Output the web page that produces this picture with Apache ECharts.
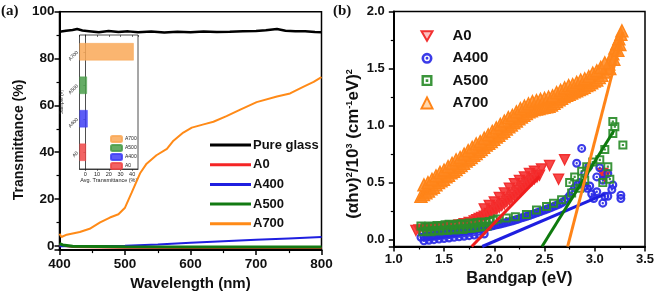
<!DOCTYPE html>
<html>
<head>
<meta charset="utf-8">
<script src="https://cdn.jsdelivr.net/npm/echarts@6/dist/echarts.min.js"></script>
<style>
  html, body { margin: 0; padding: 0; background: #fff; }
  #chart { width: 660px; height: 296px; }
</style>
</head>
<body>
<div id="chart"></div>
<script>
// (a) transmittance spectra, [wavelength (nm), T (%)]
var glassSpectrum = [[400, 91.4], [410, 91.9], [420, 92.2], [427, 92.6], [435, 92.0], [445, 91.7], [460, 91.2], [475, 91.8],
  [490, 91.3], [505, 91.6], [520, 91.2], [540, 91.5], [560, 91.1], [580, 91.4], [600, 91.2], [620, 91.5], [640, 91.3],
  [660, 91.4], [680, 91.6], [700, 91.8], [715, 92.1], [732, 92.6], [745, 91.9], [760, 91.6], [775, 91.7], [790, 91.3], [800, 91.2]];
var a0Spectrum = [[400, 0.3], [420, -0.5], [500, -0.8], [600, -0.9], [700, -0.9], [800, -0.9]];
var a400Spectrum = [[400, -0.2], [450, -0.1], [500, 0.1], [550, 0.6], [600, 1.3], [650, 1.95], [700, 2.6], [750, 3.2], [800, 3.8]];
var a500Spectrum = [[400, 1.0], [405, 0.4], [420, -0.2], [500, -0.4], [600, -0.5], [700, -0.5], [800, -0.5]];
var a700Spectrum = [[400, 5.2], [403, 3.8], [411, 4.8], [431, 5.9], [446, 7.3], [462, 10.0], [477, 12.1], [490, 13.5],
  [500, 16.3], [510, 22.6], [523, 31.0], [533, 35.1], [548, 38.7], [564, 41.4], [574, 44.9], [589, 48.4], [602, 50.5],
  [620, 51.9], [635, 53.0], [655, 55.4], [676, 58.2], [701, 61.4], [732, 63.8], [752, 65.1], [772, 67.9], [788, 70.0], [800, 72.1]];

// inset: average transmittance
var insetSamples = ['A0', 'A400', 'A500', 'A700'];
var insetAvgT = [0.6, 2.0, 1.4, 41.4];
var insetMin = -5;

// (b) tauc plot, [bandgap (eV), (ahv)^2/10^3]
var taucA0 = [[1.22, 0.08], [1.25, 0.085], [1.30, 0.09], [1.35, 0.095], [1.40, 0.10], [1.45, 0.105], [1.50, 0.11], [1.55, 0.115],
  [1.60, 0.12], [1.65, 0.13], [1.70, 0.14], [1.75, 0.15], [1.80, 0.165], [1.825, 0.175], [1.85, 0.185], [1.875, 0.195],
  [1.90, 0.205], [1.925, 0.215], [1.95, 0.23], [1.975, 0.24], [2.00, 0.255], [2.025, 0.27], [2.05, 0.285], [2.075, 0.30],
  [2.10, 0.315], [2.125, 0.335], [2.15, 0.35], [2.175, 0.37], [2.20, 0.39], [2.225, 0.41], [2.25, 0.43], [2.275, 0.45],
  [2.30, 0.47], [2.325, 0.49], [2.35, 0.505], [2.375, 0.52], [2.40, 0.535], [2.425, 0.55], [2.45, 0.565],
  [1.90, 0.27], [1.95, 0.30], [2.00, 0.33], [2.05, 0.37], [2.10, 0.41], [2.15, 0.45], [2.20, 0.49], [2.25, 0.52],
  [2.30, 0.55], [2.35, 0.58], [2.40, 0.60],
  [2.47, 0.62], [2.55, 0.65], [2.64, 0.53], [2.70, 0.70], [3.08, 0.58], [3.10, 0.55]];
var taucA400 = [[1.27, 0.02], [1.30, 0.025], [1.325, 0.028], [1.35, 0.03], [1.375, 0.033], [1.40, 0.036], [1.425, 0.039],
  [1.45, 0.042], [1.475, 0.045], [1.50, 0.048], [1.525, 0.051], [1.55, 0.054], [1.575, 0.057], [1.60, 0.06], [1.625, 0.063],
  [1.65, 0.066], [1.675, 0.07], [1.70, 0.073], [1.725, 0.077], [1.75, 0.08], [1.775, 0.084], [1.80, 0.088], [1.825, 0.092],
  [1.85, 0.096], [1.875, 0.10], [1.90, 0.105], [1.925, 0.11], [1.95, 0.115], [1.975, 0.12], [2.00, 0.125], [2.025, 0.13],
  [2.05, 0.135], [2.075, 0.14], [2.10, 0.146], [2.125, 0.152], [2.15, 0.158], [2.175, 0.164], [2.20, 0.17], [2.225, 0.177],
  [2.25, 0.184], [2.275, 0.191], [2.30, 0.198], [2.325, 0.205], [2.35, 0.212], [2.375, 0.22], [2.40, 0.228], [2.425, 0.236],
  [2.45, 0.244], [2.475, 0.252], [2.50, 0.26], [2.525, 0.268], [2.55, 0.276], [2.575, 0.285], [2.60, 0.294], [2.625, 0.303],
  [2.65, 0.313], [2.675, 0.325], [2.70, 0.34], [2.725, 0.36], [2.75, 0.385], [2.775, 0.42], [2.80, 0.455], [2.825, 0.48],
  [2.85, 0.50], [2.875, 0.49], [2.90, 0.47], [2.925, 0.45],
  [1.30, -0.01], [1.35, -0.005], [1.40, 0.0], [1.45, 0.005], [1.50, 0.01], [1.55, 0.015], [1.60, 0.02], [1.65, 0.025],
  [1.70, 0.03], [1.75, 0.035], [1.80, 0.04], [1.85, 0.045], [1.90, 0.05],
  [2.82, 0.67], [2.87, 0.80], [2.94, 0.64], [2.90, 0.58], [2.95, 0.47], [3.02, 0.55], [3.05, 0.63], [3.08, 0.52], [3.13, 0.58],
  [3.18, 0.48], [3.17, 0.44], [3.08, 0.32], [3.10, 0.38], [3.13, 0.38], [2.99, 0.36], [3.26, 0.39], [3.26, 0.36], [2.97, 0.40], [3.02, 0.42]];
var taucA500 = [[1.27, 0.12], [1.31, 0.11], [1.35, 0.12], [1.39, 0.115], [1.43, 0.125], [1.47, 0.12], [1.51, 0.13], [1.55, 0.135],
  [1.59, 0.125], [1.63, 0.135], [1.67, 0.14], [1.71, 0.13], [1.75, 0.145], [1.79, 0.14], [1.83, 0.15], [1.87, 0.155],
  [1.91, 0.15], [1.95, 0.16], [1.99, 0.17],
  [1.29, 0.07], [1.33, 0.075], [1.37, 0.07], [1.41, 0.08], [1.45, 0.075], [1.49, 0.085], [1.53, 0.08], [1.57, 0.09],
  [1.61, 0.085], [1.65, 0.095], [1.69, 0.09], [1.73, 0.10], [1.77, 0.10], [1.81, 0.105], [1.85, 0.11], [1.89, 0.115], [1.93, 0.12],
  [2.03, 0.18], [2.12, 0.19], [2.21, 0.20], [2.32, 0.22], [2.42, 0.26], [2.52, 0.29], [2.59, 0.32], [2.67, 0.35], [2.77, 0.41],
  [2.75, 0.50], [2.80, 0.55], [2.87, 0.60], [2.92, 0.64], [2.98, 0.68], [3.05, 0.70], [3.10, 0.79], [3.13, 0.64], [3.15, 0.53],
  [3.08, 0.50], [3.18, 1.035], [3.20, 0.99], [3.18, 0.93], [3.28, 0.83], [2.85, 0.45], [2.90, 0.52]];
var taucA700 = [[1.27, 0.38], [1.295, 0.395], [1.32, 0.41], [1.345, 0.425], [1.37, 0.445], [1.395, 0.46], [1.42, 0.48],
  [1.445, 0.50], [1.47, 0.515], [1.495, 0.53], [1.52, 0.55], [1.545, 0.565], [1.57, 0.585], [1.595, 0.60], [1.62, 0.615],
  [1.645, 0.635], [1.67, 0.65], [1.695, 0.67], [1.72, 0.69], [1.745, 0.705], [1.77, 0.72], [1.795, 0.74], [1.82, 0.755],
  [1.845, 0.775], [1.87, 0.79], [1.895, 0.81], [1.92, 0.83], [1.945, 0.845], [1.97, 0.86], [1.995, 0.88], [2.02, 0.90],
  [2.045, 0.915], [2.07, 0.935], [2.095, 0.95], [2.12, 0.97], [2.145, 0.99], [2.17, 1.005], [2.195, 1.025], [2.22, 1.04],
  [2.245, 1.06], [2.27, 1.075], [2.295, 1.09], [2.32, 1.105], [2.345, 1.12], [2.37, 1.13], [2.395, 1.14], [2.42, 1.145],
  [2.445, 1.15], [2.47, 1.155], [2.495, 1.16], [2.52, 1.165], [2.545, 1.17], [2.57, 1.18], [2.595, 1.195], [2.62, 1.21],
  [2.645, 1.225], [2.67, 1.24], [2.695, 1.255], [2.72, 1.265], [2.745, 1.275], [2.77, 1.285], [2.795, 1.295], [2.82, 1.305],
  [2.845, 1.315], [2.87, 1.325], [2.895, 1.335], [2.92, 1.35], [2.945, 1.36], [2.97, 1.375], [2.995, 1.39], [3.02, 1.40],
  [3.045, 1.42], [3.07, 1.44], [3.095, 1.47], [3.12, 1.50], [3.14, 1.54], [3.16, 1.58], [3.18, 1.63], [3.20, 1.68],
  [3.22, 1.72], [3.24, 1.76], [3.26, 1.80], [3.27, 1.83], [3.15, 1.50], [3.19, 1.58], [3.23, 1.66], [3.25, 1.71],
  [1.30, 0.48], [1.34, 0.50], [1.38, 0.53], [1.42, 0.56], [1.46, 0.59], [1.50, 0.61], [1.54, 0.64], [1.58, 0.67], [1.62, 0.70],
  [1.66, 0.72], [1.70, 0.75], [1.74, 0.78], [1.78, 0.81], [1.82, 0.84], [1.86, 0.86], [1.90, 0.89], [1.94, 0.92], [1.98, 0.95],
  [2.02, 0.98], [2.06, 1.01], [2.10, 1.04], [2.14, 1.07], [2.18, 1.09], [2.22, 1.12], [2.26, 1.15], [2.30, 1.17], [2.34, 1.19],
  [2.38, 1.21], [2.42, 1.22], [2.46, 1.23], [2.50, 1.24], [2.54, 1.25], [2.58, 1.26], [2.62, 1.29], [2.66, 1.31], [2.70, 1.33],
  [2.74, 1.35], [2.78, 1.36], [2.82, 1.38], [2.86, 1.40], [2.90, 1.41], [2.94, 1.43], [2.98, 1.46], [3.02, 1.48], [3.06, 1.51], [3.10, 1.55]];
// linear fits (tauc extrapolation)
var fitA0 = [[1.775, -0.06], [2.45, 0.555]];
var fitA400 = [[1.88, -0.06], [3.10, 0.40]];
var fitA500 = [[2.475, -0.06], [3.19, 0.955]];
var fitA700 = [[2.73, -0.06], [3.28, 1.82]];

var font = "'Liberation Sans', Arial, sans-serif";
var colors = { glass: '#000000', A0: '#f52525', A400: '#1f1fe0', A500: '#127a12', A700: '#ff8a17' };

var triDown = 'path://M0,0 L100,0 L50,86.6 Z';
var ringDot = 'path://M50,0 A50,50 0 1,1 49.99,0 Z M50,24 A26,26 0 1,0 50.01,24 Z M50,37 A13,13 0 1,1 49.99,37 Z';
var squareDot = 'path://M0,0 L100,0 L100,100 L0,100 Z M22,22 L22,78 L78,78 L78,22 Z M38,38 L62,38 L62,62 L38,62 Z';

function frameAxis(gridIndex, extra) {
  var ax = {
    gridIndex: gridIndex,
    type: 'value',
    axisLine: { show: true, onZero: false, lineStyle: { color: '#000', width: 2 } },
    axisTick: { show: true, length: 5, lineStyle: { color: '#000', width: 1.5 } },
    minorTick: { show: true, splitNumber: 2, length: 3, lineStyle: { color: '#000', width: 1.2 } },
    splitLine: { show: false }
  };
  return Object.assign(ax, extra);
}

function specLine(name, data, color, width) {
  return {
    name: name, type: 'line', xAxisIndex: 0, yAxisIndex: 0, data: data,
    showSymbol: false, symbol: 'none', color: color,
    lineStyle: { color: color, width: width }
  };
}

function insetBar(i, color) {
  var data = insetSamples.map(function (s, j) { return j === i ? insetAvgT[j] - insetMin : '-'; });
  return {
    name: 'avg ' + insetSamples[i], type: 'bar', xAxisIndex: 3, yAxisIndex: 2, data: data,
    barWidth: '52%', barGap: '-100%', color: color,
    itemStyle: { color: color, opacity: 0.85, borderColor: color, borderWidth: 0.6 }
  };
}

function taucScatter(name, data, symbol, size, stroke, fill) {
  var outlined = symbol === 'triangle' || symbol === triDown;
  return {
    name: 'tauc ' + name, type: 'scatter', xAxisIndex: 1, yAxisIndex: 1, data: data,
    symbol: symbol, symbolSize: size, color: stroke,
    itemStyle: outlined
      ? { color: fill, borderColor: stroke, borderWidth: 1.4, opacity: 1 }
      : { color: stroke, opacity: 0.92 }
  };
}

function fitLine(data, color) {
  return {
    type: 'line', xAxisIndex: 1, yAxisIndex: 1, data: data, z: 5,
    showSymbol: false, symbol: 'none', lineStyle: { color: color, width: 3 }
  };
}

var chart = echarts.init(document.getElementById('chart'), null, { renderer: 'canvas' });

var option = {
  animation: false,
  backgroundColor: '#fff',
  grid: [
    { left: 59.5, top: 11.7, width: 262, height: 243.3, show: true, borderColor: '#000', borderWidth: 1.5 },
    { left: 393.8, top: 11.5, width: 251.2, height: 235, show: true, borderColor: '#000', borderWidth: 1.5 },
    { left: 79.5, top: 35, width: 58.5, height: 134, show: true, borderColor: '#222', borderWidth: 0.8, backgroundColor: '#fff' }
  ],
  xAxis: [
    frameAxis(0, {
      min: 400, max: 800, interval: 100,
      name: 'Wavelength (nm)', nameLocation: 'middle', nameGap: 23,
      nameTextStyle: { fontFamily: font, fontWeight: 'bold', fontSize: 15, color: '#111' },
      axisLabel: { fontFamily: font, fontWeight: 'bold', fontSize: 13.5, color: '#111', margin: 7 }
    }),
    frameAxis(1, {
      min: 1, max: 3.5, interval: 0.5,
      name: 'Bandgap (eV)', nameLocation: 'middle', nameGap: 17,
      nameTextStyle: { fontFamily: font, fontWeight: 'bold', fontSize: 16.5, color: '#111' },
      axisLabel: { fontFamily: font, fontWeight: 'bold', fontSize: 13, color: '#111', margin: 6,
        formatter: function (v) { return v.toFixed(1); } }
    }),
    frameAxis(2, {
      min: insetMin, max: 45, splitNumber: 5,
      axisLine: { show: true, onZero: false, lineStyle: { color: '#222', width: 0.8 } },
      axisTick: { show: true, length: 2, lineStyle: { color: '#222', width: 0.6 } },
      minorTick: { show: false },
      name: 'Avg. Transmittance (%)', nameLocation: 'middle', nameGap: 8,
      nameTextStyle: { fontFamily: font, fontSize: 5.5, color: '#222' },
      axisLabel: { fontFamily: font, fontSize: 5.5, color: '#222', margin: 2, showMinLabel: false, showMaxLabel: false }
    }),
    { gridIndex: 2, type: 'value', min: 0, max: 45 - insetMin, show: false },
    frameAxis(2, {
      min: insetMin, max: 45, splitNumber: 5, position: 'top',
      axisLine: { show: false },
      axisTick: { show: true, inside: true, length: 2, lineStyle: { color: '#222', width: 0.6 } },
      minorTick: { show: false },
      axisLabel: { show: false }
    })
  ],
  yAxis: [
    frameAxis(0, {
      min: -1.8, max: 100, splitNumber: 5,
      name: 'Transmittance (%)', nameLocation: 'middle', nameGap: 33,
      nameTextStyle: { fontFamily: font, fontWeight: 'bold', fontSize: 14, color: '#111', padding: [0, 18, 0, 0] },
      axisLabel: { fontFamily: font, fontWeight: 'bold', fontSize: 13.5, color: '#111', margin: 5, showMinLabel: false }
    }),
    frameAxis(1, {
      min: -0.06, max: 2, splitNumber: 4,
      name: '(\u03b1h\u03bd){s|2}/10{s|3} (cm{s|-1}eV){s|2}', nameLocation: 'middle', nameGap: 32,
      nameTextStyle: { fontFamily: font, fontWeight: 'bold', fontSize: 17, color: '#111', padding: [0, 30, 0, 0],
        rich: { s: { fontFamily: font, fontWeight: 'bold', fontSize: 9, verticalAlign: 'top', color: '#111' } } },
      axisLabel: { fontFamily: font, fontWeight: 'bold', fontSize: 13, color: '#111', margin: 9, showMinLabel: false,
        formatter: function (v) { return v.toFixed(1); } }
    }),
    {
      gridIndex: 2, type: 'category', data: insetSamples,
      axisLine: { show: true, lineStyle: { color: '#222', width: 0.8 } },
      axisTick: { show: true, length: 2, alignWithLabel: true, lineStyle: { color: '#222', width: 0.6 } },
      name: 'Sample (#)', nameLocation: 'middle', nameGap: 12,
      nameTextStyle: { fontFamily: font, fontSize: 5, color: '#222' },
      axisLabel: { fontFamily: font, fontSize: 5, color: '#222', rotate: 45, margin: 2 }
    }
  ],
  legend: [
    {
      left: 210, top: 138.5, padding: 0, orient: 'vertical', icon: 'rect', itemWidth: 41, itemHeight: 3, itemGap: 6.7,
      data: ['Pure glass', 'A0', 'A400', 'A500', 'A700'],
      textStyle: { fontFamily: font, fontWeight: 'bold', fontSize: 13, color: '#111', padding: [0, 0, 0, -3] }
    },
    {
      left: 420.5, top: 28.5, padding: 0, orient: 'vertical', itemWidth: 11, itemHeight: 11, itemGap: 7.3,
      data: [
        { name: 'tauc A0', itemStyle: { color: 'rgba(250,150,150,0.6)' } },
        { name: 'tauc A400' },
        { name: 'tauc A500' },
        { name: 'tauc A700', itemStyle: { color: 'rgba(255,190,120,0.6)' } }
      ],
      formatter: function (name) { return name.replace('tauc ', ''); },
      textStyle: { fontFamily: font, fontWeight: 'bold', fontSize: 15, color: '#111', padding: [0, 0, 0, 15] }
    },
    {
      left: 110, top: 135, padding: 0, orient: 'vertical', itemWidth: 11, itemHeight: 6, itemGap: 1,
      data: ['avg A700', 'avg A500', 'avg A400', 'avg A0'],
      formatter: function (name) { return name.replace('avg ', ''); },
      textStyle: { fontFamily: font, fontSize: 5, color: '#222', padding: [0, 0, 0, -2] }
    }
  ],
  graphic: [
    { type: 'text', left: 1, top: 4, style: { text: '(a)', font: 'bold 15px "Liberation Serif", serif', fill: '#111' } },
    { type: 'text', left: 333, top: 4, style: { text: '(b)', font: 'bold 15px "Liberation Serif", serif', fill: '#111' } }
  ],
  series: [
    specLine('Pure glass', glassSpectrum, colors.glass, 2.5),
    specLine('A0', a0Spectrum, colors.A0, 2),
    specLine('A400', a400Spectrum, colors.A400, 2),
    specLine('A500', a500Spectrum, colors.A500, 3),
    specLine('A700', a700Spectrum, colors.A700, 2),

    insetBar(0, '#f04848'),
    insetBar(1, '#3f3ff5'),
    insetBar(2, '#4a9e4a'),
    insetBar(3, '#f9a857'),

    taucScatter('A0', taucA0, triDown, 10, '#f23030', 'rgba(245,40,40,0.85)'),
    taucScatter('A400', taucA400, ringDot, 9, '#2a2ae6'),
    taucScatter('A500', taucA500, squareDot, 9, '#2a8c2a'),
    taucScatter('A700', taucA700, 'triangle', 12, '#ff8418', 'rgba(255,135,30,0.85)'),

    fitLine(fitA0, '#f01e1e'),
    fitLine(fitA400, '#1e1ee0'),
    fitLine(fitA500, '#0e7a0e'),
    fitLine(fitA700, '#ff8418')
  ]
};

chart.setOption(option);
</script>
</body>
</html>
